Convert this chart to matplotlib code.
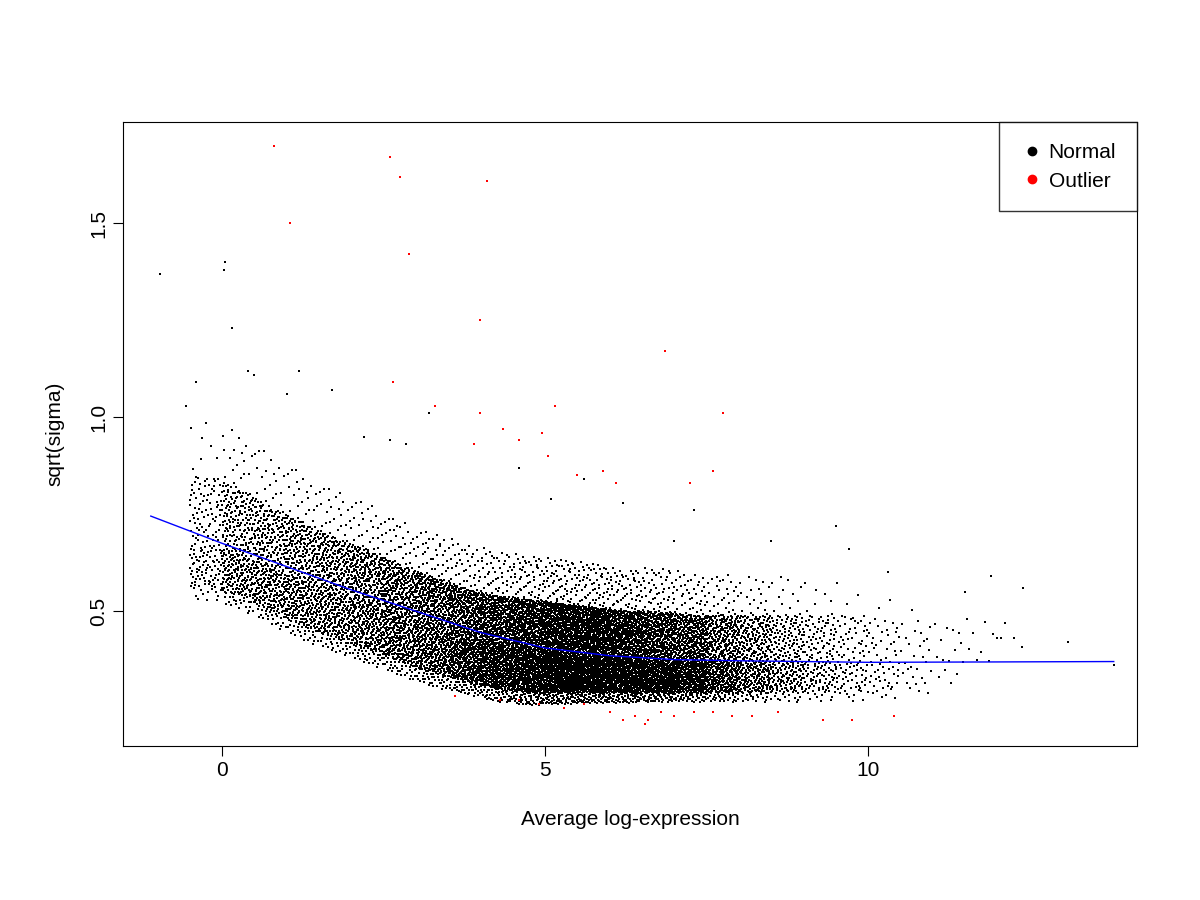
import numpy as np
import matplotlib
matplotlib.use("Agg")
import matplotlib.pyplot as plt

# bin summaries of the dense cloud
bin_x = [-0.25, 0.25, 0.75, 1.25, 1.75, 2.25, 2.75, 3.25, 3.75, 4.25, 4.75, 5.25, 5.75, 6.25,
         6.75, 7.25, 7.75, 8.25, 8.75, 9.25, 9.75, 10.25, 10.75, 11.25, 11.75, 12.25]
bin_n = [180, 380, 420, 460, 500, 560, 620, 720, 860, 1000, 1200, 1300, 1300, 1200,
         1000, 800, 600, 400, 250, 160, 100, 60, 30, 15, 8, 4]
bin_q05 = [0.56, 0.54, 0.50, 0.46, 0.43, 0.40, 0.37, 0.34, 0.32, 0.30, 0.29, 0.29, 0.29, 0.29,
           0.29, 0.29, 0.29, 0.29, 0.29, 0.29, 0.29, 0.29, 0.30, 0.32, 0.35, 0.40]
bin_q50 = [0.67, 0.65, 0.61, 0.58, 0.55, 0.52, 0.49, 0.46, 0.43, 0.41, 0.40, 0.39, 0.38, 0.38,
           0.37, 0.37, 0.37, 0.37, 0.37, 0.37, 0.37, 0.37, 0.38, 0.40, 0.42, 0.45]
bin_q95 = [0.85, 0.82, 0.77, 0.73, 0.69, 0.66, 0.62, 0.59, 0.56, 0.54, 0.53, 0.52, 0.51, 0.50,
           0.50, 0.49, 0.49, 0.49, 0.49, 0.49, 0.49, 0.48, 0.48, 0.48, 0.50, 0.52]

# sparse points read individually
sparse_x = [-0.95, 0.05, 0.03, 0.15, -0.4, -0.55, 0.4, 0.5, 1.0, 1.2, 1.7, 2.2, 2.6, 2.85, 3.2,
            4.6, 5.1, 5.6, 6.2, 7.0, 7.3, 8.5, 9.5, 9.7, 10.3, 11.5, 11.9, 12.4, 13.1, 13.8, 12.0]
sparse_y = [1.37, 1.40, 1.38, 1.23, 1.09, 1.03, 1.12, 1.11, 1.06, 1.12, 1.07, 0.95, 0.94, 0.93, 1.01,
            0.87, 0.79, 0.84, 0.78, 0.68, 0.76, 0.68, 0.72, 0.66, 0.60, 0.55, 0.59, 0.56, 0.42, 0.36, 0.43]

red_x = [0.8, 1.05, 2.6, 2.75, 2.9, 4.1, 2.65, 4.0, 3.3, 4.0, 4.35, 4.6, 4.95, 5.15, 6.85, 7.75,
         5.5, 5.9, 6.1, 7.25, 7.6, 5.05, 3.9, 3.6, 4.6, 4.9, 5.3, 5.6, 6.0, 6.4, 6.6, 6.8, 7.0,
         7.3, 7.6, 7.9, 8.2, 8.6, 9.3, 9.75, 10.4, 6.2, 6.55, 4.3]
red_y = [1.70, 1.50, 1.67, 1.62, 1.42, 1.61, 1.09, 1.25, 1.03, 1.01, 0.97, 0.94, 0.96, 1.03, 1.17, 1.01,
         0.85, 0.86, 0.83, 0.83, 0.86, 0.90, 0.93, 0.28, 0.27, 0.26, 0.25, 0.26, 0.24, 0.23, 0.22, 0.24,
         0.23, 0.24, 0.24, 0.23, 0.23, 0.24, 0.22, 0.22, 0.23, 0.22, 0.21, 0.27]

trend_x = [-1.1, 0, 1, 2, 3, 4, 5, 6, 7, 8, 9, 10, 12, 13.8]
trend_y = [0.745, 0.675, 0.615, 0.555, 0.50, 0.445, 0.405, 0.385, 0.375, 0.372, 0.370, 0.368, 0.369, 0.370]


def halton(i, base):
    # van der Corput sequence, used to spread points evenly without randomness
    f, r = 1.0, np.zeros(len(i))
    i = i.copy()
    while np.any(i > 0):
        f /= base
        r += f * (i % base)
        i //= base
    return r


# spread each bin's points over its read quantiles, smoothing the quantiles along x
cx, cy = [], []
for x0, n in zip(bin_x, bin_n):
    i = np.arange(1, n + 1)
    xs = x0 - 0.25 + 0.5 * halton(i, 2)
    u = halton(i, 3)
    lo = np.interp(xs, bin_x, bin_q05)
    md = np.interp(xs, bin_x, bin_q50)
    hi = np.interp(xs, bin_x, bin_q95)
    ys = np.where(u < 0.05, lo - (0.05 - u) / 0.05 * 0.3 * (md - lo),
         np.where(u < 0.5, lo + (u - 0.05) / 0.45 * (md - lo),
         np.where(u < 0.95, md + (u - 0.5) / 0.45 * (hi - md),
                  hi + (u - 0.95) / 0.05 * 0.9 * (hi - md))))
    cx.append(xs)
    cy.append(ys)
cx = np.concatenate(cx)
cy = np.concatenate(cy)

plt.rcParams['font.family'] = ['Liberation Sans', 'DejaVu Sans']
fig = plt.figure(figsize=(12, 9), dpi=100)
ax = fig.add_axes([0.1025, 0.171, 0.845, 0.693])
ax.scatter(cx, cy, s=1.6, marker='s', c='black', linewidths=0)
ax.scatter(sparse_x, sparse_y, s=2, marker='s', c='black', linewidths=0)
ax.scatter(red_x, red_y, s=2.5, marker='s', c='red', linewidths=0)
ax.plot(trend_x, trend_y, color='blue', lw=1)

ax.set_xlim(-1.53, 14.16)
ax.set_ylim(0.152, 1.760)
ax.set_xticks([0, 5, 10])
ax.set_yticks([0.5, 1.0, 1.5])
ax.set_yticklabels(['0.5', '1.0', '1.5'], rotation=90, va='center')
ax.tick_params(labelsize=15, length=7)
ax.set_xlabel('Average log-expression', fontsize=15, labelpad=22)
ax.set_ylabel('sqrt(sigma)', fontsize=15, labelpad=18)
ax.plot([], [], 'o', color='black', ms=6, label='Normal')
ax.plot([], [], 'o', color='red', ms=6, label='Outlier')
leg = ax.legend(loc='upper right', fontsize=15, frameon=True, fancybox=False,
                borderaxespad=0, handletextpad=0.2, handlelength=1.2,
                borderpad=1.0, labelspacing=0.45)
leg.get_frame().set_edgecolor('black')
leg.get_frame().set_linewidth(1)
fig.savefig('out.png')
